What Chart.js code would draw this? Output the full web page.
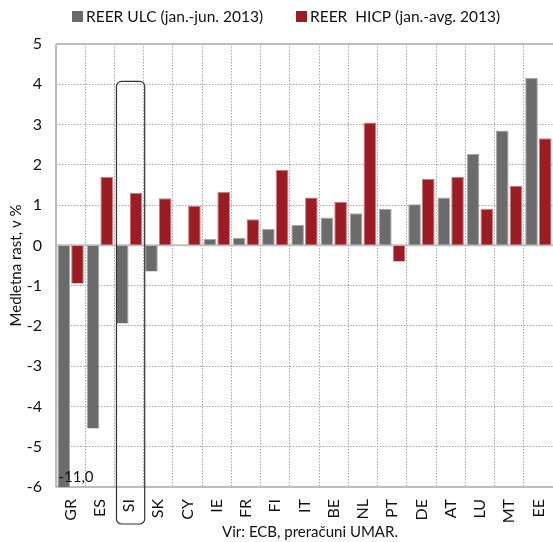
<!DOCTYPE html>
<html>
<head>
<meta charset="utf-8">
<script src="https://cdn.jsdelivr.net/npm/chart.js@4"></script>
<style>
html,body{margin:0;padding:0;background:#fff;}
#wrap{width:553px;height:542px;position:relative;}
</style>
</head>
<body>
<div id="wrap"><canvas id="c" width="553" height="542"></canvas></div>
<script>
const categories = ['GR','ES','SI','SK','CY','IE','FR','FI','IT','BE','NL','PT','DE','AT','LU','MT','EE'];
const ulcValues  = [-11.0,-4.55,-1.94,-0.65,null,0.16,0.19,0.41,0.51,0.69,0.80,0.90,1.02,1.19,2.27,2.85,4.16];
const hicpValues = [-0.95,1.70,1.30,1.17,0.98,1.33,0.65,1.87,1.19,1.08,3.05,-0.40,1.65,1.70,0.91,1.48,2.66];
const seriesLabels = ['REER ULC (jan.-jun. 2013)', 'REER  HICP (jan.-avg. 2013)'];
const yTicks = [5,4,3,2,1,0,-1,-2,-3,-4,-5,-6];
const clippedLabel = '-11,0';
const footerText = 'Vir: ECB, preračuni UMAR.';
const highlighted = 'SI';

const FONT = 'Lato';
const GRAY = '#6b6b6b';
const RED = '#9b1c22';

const overlay = {
  id: 'overlay',
  beforeDatasetsDraw(chart) {
    const {ctx, chartArea: a, scales: {x, y}} = chart;
    ctx.save();
    ctx.strokeStyle = '#bdbdbd';
    ctx.lineWidth = 2;
    const y0 = y.getPixelForValue(0);
    ctx.beginPath();
    ctx.moveTo(a.left, y0); ctx.lineTo(a.right, y0);
    ctx.moveTo(a.left, a.top); ctx.lineTo(a.right, a.top);
    ctx.moveTo(a.left, a.bottom); ctx.lineTo(a.right, a.bottom);
    ctx.moveTo(a.left, a.top); ctx.lineTo(a.left, a.bottom);
    ctx.stroke();
    ctx.restore();
  },
  afterDraw(chart) {
    const {ctx, chartArea: a, scales: {x, y}} = chart;
    ctx.save();
    // legend
    ctx.font = '15.5px ' + FONT;
    ctx.textBaseline = 'middle';
    ctx.textAlign = 'left';
    const legendX = [72, 296];
    chart.data.datasets.forEach((ds, i) => {
      ctx.fillStyle = ds.backgroundColor;
      ctx.fillRect(legendX[i], 11, 11, 11);
      ctx.fillStyle = '#111';
      ctx.fillText(ds.label, legendX[i] + 14, 17);
    });
    // clipped value label
    const bar = chart.getDatasetMeta(0).data[0];
    ctx.font = '15px ' + FONT;
    ctx.fillStyle = '#111';
    ctx.textBaseline = 'alphabetic';
    ctx.fillText(clippedLabel, bar.x - bar.width / 2 + 1, a.bottom - 5);
    // highlight box
    const idx = categories.indexOf(highlighted);
    const cx = x.getPixelForValue(idx);
    const half = (x.getPixelForValue(1) - x.getPixelForValue(0)) / 2;
    const left = cx - half + 2, right = cx + half + 1;
    const top = y.getPixelForValue(4.07), bottom = a.bottom + 37;
    ctx.strokeStyle = '#333';
    ctx.lineWidth = 1.2;
    ctx.beginPath();
    ctx.roundRect(left, top, right - left, bottom - top, 5);
    ctx.stroke();
    // footer
    ctx.font = '15px ' + FONT;
    ctx.fillStyle = '#111';
    ctx.textAlign = 'center';
    ctx.fillText(footerText, 310, 537);
    ctx.restore();
  }
};

new Chart(document.getElementById('c'), {
  type: 'bar',
  data: {
    labels: categories,
    datasets: [
      {label: seriesLabels[0], data: ulcValues, backgroundColor: GRAY, borderColor: '#a8a8a8', borderWidth: {top:1,left:1,right:1,bottom:0}},
      {label: seriesLabels[1], data: hicpValues, backgroundColor: RED, borderColor: '#d07a7e', borderWidth: {top:1,left:1,right:1,bottom:0}}
    ]
  },
  plugins: [overlay],
  options: {
    responsive: false,
    animation: false,
    devicePixelRatio: 1,
    layout: {padding: {left: 0, right: 0, top: 44, bottom: 0}},
    datasets: {bar: {categoryPercentage: 0.94, barPercentage: 0.92}},
    plugins: {
      tooltip: {enabled: false},
      legend: {display: false}
    },
    scales: {
      x: {
        grid: {color: '#a9a9a9', offset: true, drawTicks: false},
        border: {display: false, dash: [1.5,1.5]},
        ticks: {minRotation: 90, maxRotation: 90, color: '#111', padding: 12, font: {family: FONT, size: 16}},
        afterFit(s) { s.height = 55; s.paddingRight = 0; s.paddingLeft = 0; }
      },
      y: {
        min: -6, max: 5,
        afterBuildTicks(s) { s.ticks = yTicks.map(v => ({value: v})); },
        grid: {color: '#a9a9a9', drawTicks: false},
        border: {display: false, dash: [1.5,1.5]},
        ticks: {color: '#111', padding: 14, font: {family: FONT, size: 16}},
        title: {display: true, text: 'Medletna rast, v %', color: '#111', font: {family: FONT, size: 15}, padding: {top: 7, bottom: 0}},
        afterFit(s) { s.width = 56; s.paddingTop = 0; s.paddingBottom = 0; }
      }
    }
  }
});
</script>
</body>
</html>
